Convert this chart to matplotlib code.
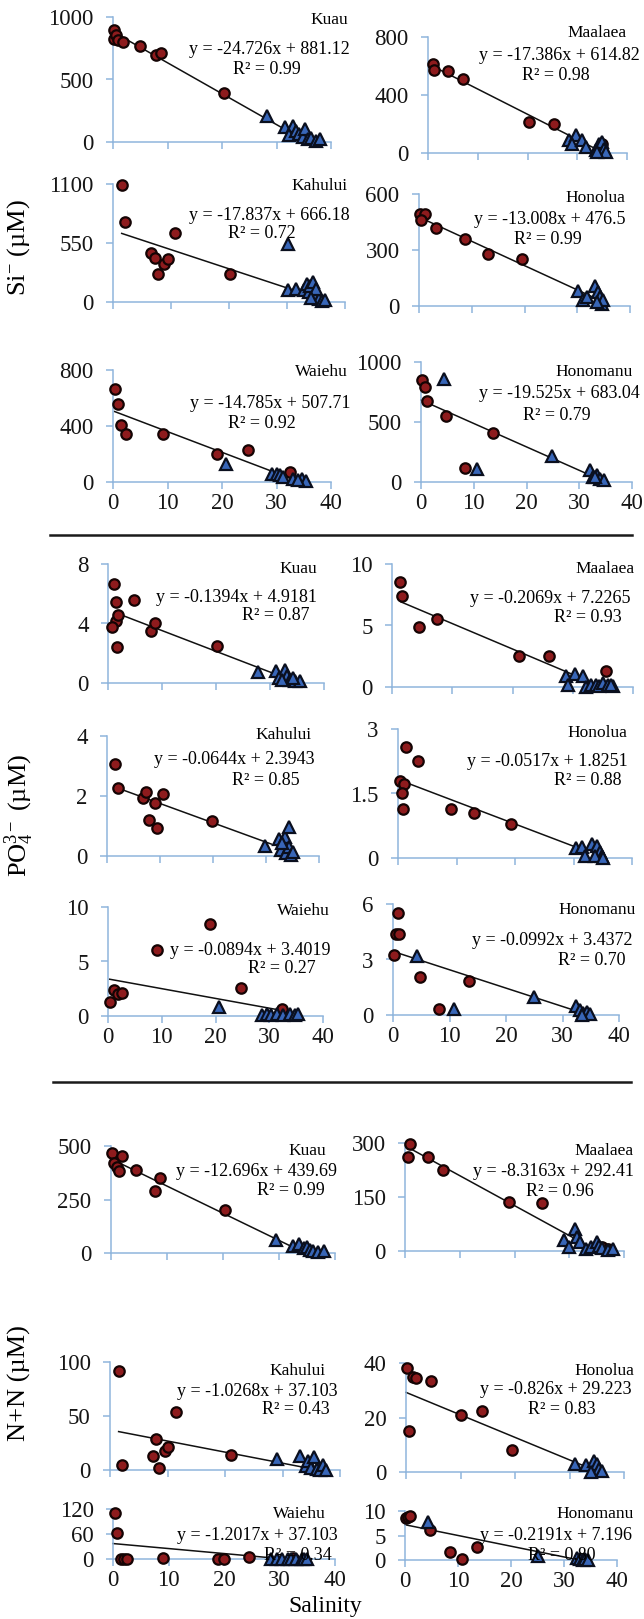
import numpy as np
import matplotlib
matplotlib.use('Agg')
from matplotlib import pyplot as plt
from matplotlib.lines import Line2D

W, H = 644, 1619
DPI = 100

stations = ['Kuau', 'Maalaea', 'Kahului', 'Honolua', 'Waiehu', 'Honomanu']
x_ticks = [0, 10, 20, 30, 40]

# ---- silicate ----
si_slope = [-24.726, -17.386, -17.837, -13.008, -14.785, -19.525]
si_icept = [881.12, 614.82, 666.18, 476.5, 507.71, 683.04]
si_r2 = [0.99, 0.98, 0.72, 0.99, 0.92, 0.79]
si_yticks = [[0, 500, 1000], [0, 400, 800], [0, 550, 1100],
             [0, 300, 600], [0, 400, 800], [0, 500, 1000]]
si_fit_x = [(0, 36), (1.0, 35), (1.5, 36), (0, 35), (0.3, 35.5), (0, 35)]
si_circ_x = [[0.1, 0.1, 0.6, 1.0, 1.9, 4.9, 7.9, 8.8, 20.3],
             [1.0, 1.3, 4.0, 7.0, 20.3, 25.3, 35.0],
             [1.5, 2.1, 6.5, 7.3, 7.7, 8.8, 9.4, 10.7, 20.1],
             [0.1, 1.1, 0.4, 3.3, 8.8, 13.0, 19.6],
             [0.3, 0.9, 1.5, 2.3, 9.1, 19.0, 24.8, 32.5],
             [0.2, 0.8, 1.1, 4.8, 13.6, 8.3]]
si_circ_y = [[899, 820, 853, 819, 800, 765, 699, 715, 392],
             [616, 570, 566, 513, 214, 202, 64],
             [1091, 742, 461, 414, 259, 352, 399, 642, 259],
             [494, 494, 462, 417, 359, 277, 250],
             [661, 556, 406, 346, 346, 203, 227, 72],
             [852, 790, 676, 550, 405, 120]]
si_tri_x = [[28.2, 31.5, 33.0, 32.3, 33.6, 34.2, 34.8, 35.3, 35.8, 36.4, 37.2, 38.0],
            [28.3, 29.7, 29.0, 31.0, 31.7, 33.7, 34.3, 35.0, 35.3, 35.7, 34.0],
            [30.1, 30.1, 31.5, 32.9, 33.5, 33.8, 34.0, 34.5, 35.0, 35.5, 36.0, 36.5, 35.0, 34.2],
            [30.2, 31.1, 31.8, 33.4, 34.0, 34.3, 34.6, 34.9, 33.7],
            [20.8, 29.1, 30.0, 30.6, 31.2, 33.1, 34.6, 35.5, 34.0],
            [4.3, 10.6, 24.8, 32.1, 32.7, 33.4, 34.0, 34.6, 33.0]]
si_tri_y = [[205, 120, 125, 55, 90, 60, 40, 100, 20, 30, 10, 20],
            [87, 122, 64, 87, 41, 18, 64, 76, 30, 7, 7],
            [109, 545, 125, 109, 171, 93, 150, 190, 60, 30, 10, 20, 120, 40],
            [81, 34, 48, 108, 75, 48, 13, 30, 20],
            [131, 60, 60, 48, 36, 24, 24, 7, 12],
            [857, 112, 215, 98, 42, 56, 28, 14, 42]]

# ---- phosphate ----
po_slope = [-0.1394, -0.2069, -0.0644, -0.0517, -0.0894, -0.0992]
po_icept = [4.9181, 7.2265, 2.3943, 1.8251, 3.4019, 3.4372]
po_r2 = [0.87, 0.93, 0.85, 0.88, 0.27, 0.70]
po_yticks = [[0, 4, 8], [0, 5, 10], [0, 2, 4],
             [0, 1.5, 3], [0, 5, 10], [0, 3, 6]]
po_fit_x = [(1.5, 35), (1.5, 30), (2.0, 31), (0.3, 31.5), (0.3, 33), (0.1, 34)]
po_circ_x = [[1.05, 1.4, 1.5, 0.8, 1.9, 1.7, 4.8, 8.0, 8.7, 20.2],
             [1.3, 1.7, 4.4, 7.5, 21.0, 26.1, 35.6],
             [1.6, 2.1, 6.7, 7.4, 9.0, 10.5, 7.9, 9.4, 19.8],
             [1.3, 3.4, 0.3, 1.1, 0.6, 0.9, 9.0, 13.0, 19.4],
             [0.3, 1.05, 1.9, 2.6, 9.1, 18.9, 24.7, 32.3],
             [0.9, 0.6, 1.0, 0.1, 4.7, 13.5, 8.1]]
po_circ_y = [[6.66, 5.42, 4.15, 3.79, 4.55, 2.42, 5.6, 3.52, 4.03, 2.47],
             [8.5, 7.43, 4.84, 5.5, 2.54, 2.54, 1.27],
             [3.05, 2.27, 1.94, 2.12, 1.77, 2.08, 1.2, 0.95, 1.17],
             [2.57, 2.26, 1.80, 1.73, 1.52, 1.14, 1.14, 1.04, 0.80],
             [1.29, 2.36, 2.05, 2.14, 6.02, 8.41, 2.6, 0.67],
             [5.5, 4.4, 4.4, 3.24, 2.07, 1.84, 0.32]]
po_tri_x = [[27.8, 31.1, 32.7, 31.7, 33.1, 33.7, 34.6, 35.6, 34.3, 32.2],
            [28.9, 29.2, 30.4, 31.7, 32.2, 33.0, 33.9, 34.4, 35.0, 35.8, 36.6, 36.3],
            [29.9, 32.4, 33.5, 34.3, 32.8, 33.8, 34.4, 34.7, 33.1, 35.0],
            [30.4, 31.4, 31.9, 33.1, 34.0, 34.5, 34.9, 33.7, 35.1],
            [20.7, 28.6, 29.5, 30.4, 31.4, 32.6, 33.8, 34.8, 35.4],
            [4.2, 10.8, 25.0, 32.4, 33.1, 33.7, 34.3, 34.9, 33.4]]
po_tri_y = [[0.72, 0.83, 0.9, 0.34, 0.45, 0.22, 0.11, 0.11, 0.34, 0.22],
            [0.86, 0.19, 1.05, 0.86, 0.0, 0.19, 0.19, 0.05, 0.32, 0.19, 0.05, 0.19],
            [0.34, 0.57, 0.64, 0.98, 0.2, 0.09, 0.31, 0.03, 0.42, 0.14],
            [0.23, 0.25, 0.04, 0.33, 0.27, 0.15, 0.04, 0.04, 0.0],
            [0.83, 0.06, 0.21, 0.06, 0.21, 0.06, 0.21, 0.06, 0.15],
            [3.19, 0.31, 0.99, 0.49, 0.27, 0.09, 0.18, 0.05, 0.0]]

# ---- nitrate + nitrite ----
nn_slope = [-12.696, -8.3163, -1.0268, -0.826, -1.2017, -0.2191]
nn_icept = [439.69, 292.41, 37.103, 29.223, 37.103, 7.196]
nn_r2 = [0.99, 0.96, 0.43, 0.83, 0.34, 0.80]
nn_yticks = [[0, 250, 500], [0, 150, 300], [0, 50, 100],
             [0, 20, 40], [0, 60, 120], [0, 5, 10]]
nn_fit_x = [(0, 36), (0.5, 35), (1.5, 36), (0, 35), (0, 31), (0, 33)]
nn_circ_x = [[0.2, 0.5, 1.0, 1.5, 2.0, 4.5, 7.8, 8.8, 20.3],
             [0.5, 1.0, 4.2, 7.0, 19.0, 25.0, 36.0, 37.0],
             [1.5, 2.0, 7.5, 8.0, 8.5, 9.5, 10.0, 11.5, 21.0],
             [0.2, 0.5, 1.2, 1.8, 4.5, 10.0, 14.0, 19.5],
             [0.3, 0.8, 1.5, 2.0, 2.5, 9.0, 19.0, 20.0, 24.5, 32.5],
             [0.2, 0.6, 1.0, 4.8, 8.5, 10.8, 13.5]]
nn_circ_y = [[465, 420, 400, 385, 455, 390, 290, 350, 200],
             [260, 298, 262, 225, 135, 132, 10, 5],
             [92, 5, 13, 29, 2, 18, 21, 54, 14],
             [38, 15, 35, 34.5, 33.5, 21, 22.5, 8],
             [110, 62, 0, 0.5, 0, 3, 0, 0.5, 5, 2],
             [8.5, 8.7, 9.0, 6.1, 1.6, 0.3, 2.7]]
nn_tri_x = [[29.5, 32.5, 33.5, 34.5, 35.0, 35.5, 36.0, 37.0, 38.0],
            [29.0, 30.0, 31.0, 31.5, 32.0, 33.0, 34.0, 35.0, 35.5, 36.0, 37.0, 38.0],
            [29.0, 33.0, 34.0, 34.5, 35.0, 35.5, 36.0, 36.5, 37.0, 37.5],
            [31.0, 33.0, 34.5, 35.0, 35.5, 36.0, 34.0],
            [28.5, 29.5, 30.5, 31.5, 32.0, 33.0, 34.0, 34.5, 35.0],
            [4.3, 25.0, 32.5, 33.0, 33.5, 34.0, 34.5]]
nn_tri_y = [[60, 35, 40, 25, 30, 15, 10, 5, 8],
            [30, 10, 60, 40, 25, 5, 10, 25, 15, 8, 2, 5],
            [10, 13, 4, 8, 2, 12, 1, 0, 5, 0],
            [3, 2.5, 4, 3, 1, 0.5, 0],
            [0, 0, 0.5, 0, 0, 1, 0, 0.5, 0],
            [7.7, 0.9, 0.5, 0.3, 0.1, 0.2, 0]]

# panel boxes in pixels: (x at 0, x at 40, top tick, baseline)
si_boxes = [(113, 331, 17, 142), (428, 627, 37, 153),
            (113, 345, 184, 302), (419, 630, 194, 306),
            (113, 331, 370, 482), (421, 632, 362, 482)]
po_boxes = [(108, 324, 564, 683), (392, 633, 564, 687),
            (107, 319, 736, 856), (398, 632, 729, 858),
            (108, 323, 907, 1016), (393, 619, 904, 1015)]
nn_boxes = [(111, 335, 1146, 1253), (405, 624, 1143, 1251),
            (110, 340, 1362, 1470), (406, 624, 1363, 1472),
            (113, 335, 1509, 1559), (405, 617, 1511, 1560)]

# text anchors in pixels: name (right x, y), equation (right x, y), r2 (x, y, ha)
si_text = [((348, 20), (350, 49), (267, 69, 'center')),
           ((627, 33), (640, 55), (556, 76, 'center')),
           ((348, 186), (350, 216), (262, 234, 'center')),
           ((625, 198), (625, 220), (548, 240, 'center')),
           ((348, 372), (350, 403), (262, 424, 'center')),
           ((633, 372), (640, 394), (557, 415, 'center'))]
po_text = [((317, 569), (317, 597), (310, 616, 'right')),
           ((635, 569), (630, 598), (622, 617, 'right')),
           ((312, 735), (315, 760), (300, 780, 'right')),
           ((627, 733), (628, 762), (622, 780, 'right')),
           ((330, 911), (330, 950), (316, 968, 'right')),
           ((636, 910), (633, 940), (625, 960, 'right'))]
nn_text = [((326, 1151), (337, 1172), (291, 1190, 'center')),
           ((634, 1151), (634, 1171), (594, 1191, 'right')),
           ((326, 1371), (338, 1391), (330, 1410, 'right')),
           ((634, 1371), (632, 1389), (596, 1410, 'right')),
           ((326, 1514), (338, 1535), (332, 1555, 'right')),
           ((634, 1514), (632, 1535), (596, 1555, 'right'))]

plt.rcParams['font.family'] = ['Liberation Serif', 'DejaVu Serif']
plt.rcParams['mathtext.fontset'] = 'custom'
plt.rcParams['mathtext.rm'] = 'Liberation Serif'
plt.rcParams['mathtext.it'] = 'Liberation Serif:italic'

AXIS_BLUE = '#8fb5dc'
CIRC_FACE, CIRC_EDGE = '#8e1b1d', '#140404'
TRI_FACE, TRI_EDGE = '#3866b8', '#0a0f1e'

fig = plt.figure(figsize=(W / DPI, H / DPI), dpi=DPI)


def px(x, y):
    return x / W, 1 - y / H


def draw_panel(box, yticks, cx, cy, tx, ty, slope, icept, r2, fit_x,
               name, txt, bottom_row):
    x0, x40, top, base = box
    ax = fig.add_axes([x0 / W, 1 - base / H, (x40 - x0) / W, (base - top) / H])
    ax.set_xlim(0, 40)
    ax.set_ylim(0, yticks[-1])
    ax.set_xticks(x_ticks)
    ax.set_yticks(yticks)
    ax.set_yticklabels(['{:g}'.format(v) for v in yticks])
    if not bottom_row:
        ax.set_xticklabels([])
    for s in ['top', 'right']:
        ax.spines[s].set_visible(False)
    for s in ['left', 'bottom']:
        ax.spines[s].set_color(AXIS_BLUE)
        ax.spines[s].set_linewidth(1.1)
    ax.tick_params(axis='both', direction='out', length=5, width=1.1,
                   color=AXIS_BLUE, labelsize=16.5, labelcolor='#151515')
    ax.tick_params(axis='y', pad=9)
    ax.tick_params(axis='x', pad=3)
    ax.patch.set_alpha(0)

    fx = np.array(fit_x)
    ax.plot(fx, slope * fx + icept, color='#111111', lw=1.1, zorder=2,
            clip_on=False)
    ax.plot(cx, cy, 'o', ms=7.5, mfc=CIRC_FACE, mec=CIRC_EDGE, mew=1.6,
            zorder=3, clip_on=False)
    ax.plot(tx, ty, '^', ms=8.2, mfc=TRI_FACE, mec=TRI_EDGE, mew=1.6,
            zorder=3, clip_on=False)

    (nx, ny), (ex, ey), (rx, ry, rha) = txt
    fig.text(*px(nx, ny), name, ha='right', va='center', fontsize=12.5)
    sign = '+' if icept >= 0 else '-'
    eq = 'y = {}x {} {}'.format(slope, sign, abs(icept))
    fig.text(*px(ex, ey), eq, ha='right', va='center', fontsize=13)
    fig.text(*px(rx, ry), 'R\u00b2 = {:.2f}'.format(r2), ha=rha,
             va='center', fontsize=13)


groups = [
    (si_boxes, si_yticks, si_circ_x, si_circ_y, si_tri_x, si_tri_y,
     si_slope, si_icept, si_r2, si_fit_x, si_text),
    (po_boxes, po_yticks, po_circ_x, po_circ_y, po_tri_x, po_tri_y,
     po_slope, po_icept, po_r2, po_fit_x, po_text),
    (nn_boxes, nn_yticks, nn_circ_x, nn_circ_y, nn_tri_x, nn_tri_y,
     nn_slope, nn_icept, nn_r2, nn_fit_x, nn_text),
]

for g in groups:
    boxes, yt, cxs, cys, txs, tys, sl, ic, r2s, fxs, texts = g
    for i in range(6):
        draw_panel(boxes[i], yt[i], cxs[i], cys[i], txs[i], tys[i],
                   sl[i], ic[i], r2s[i], fxs[i], stations[i], texts[i],
                   bottom_row=i >= 4)

# rules between the three nutrient blocks
for y, xa, xb in [(535, 50, 632), (1082, 53, 631)]:
    fig.add_artist(Line2D([xa / W, xb / W], [1 - y / H] * 2,
                          color='#1a1a1a', lw=1.8))

fig.text(*px(19, 248), 'Si$^{-}$ (\u00b5M)',
         rotation=90, ha='center', va='center', fontsize=19)
fig.text(*px(19, 815), 'PO$_4^{3-}$ (\u00b5M)', rotation=90,
         ha='center', va='center', fontsize=19)
fig.text(*px(19, 1383), 'N+N (\u00b5M)', rotation=90,
         ha='center', va='center', fontsize=19)
fig.text(*px(325, 1606), 'Salinity', ha='center', va='center', fontsize=17)

fig.savefig('out.png', dpi=DPI)
